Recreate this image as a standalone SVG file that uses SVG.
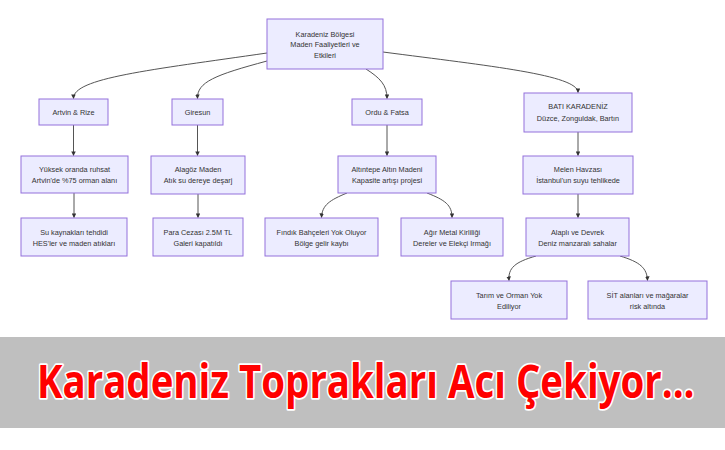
<svg xmlns="http://www.w3.org/2000/svg" width="725" height="450" viewBox="0 0 725 450">
<defs>
<style>
.n rect{fill:#ECECFF;stroke:#9370DB;stroke-width:1}
.n text{font-family:"Liberation Sans",Arial,sans-serif;font-size:7.3px;fill:#333;text-anchor:middle}
.e path{fill:none;stroke:#555;stroke-width:1;marker-end:url(#arr)}
.title{font-family:"Open Sans","Liberation Sans",sans-serif;font-weight:bold;font-size:46px;fill:#ff0000;stroke:#fff;stroke-width:3.5;paint-order:stroke;stroke-linejoin:round}
</style>
<marker id="arr" viewBox="0 0 10 10" refX="9" refY="5" markerWidth="4.5" markerHeight="4.5" orient="auto" markerUnits="userSpaceOnUse">
<path d="M0,0 L10,5 L0,10 z" fill="#333"/>
</marker>
</defs>
<rect width="725" height="450" fill="#fff"/>
<g class="e" id="connectors">
<path d="M267,53 C150,70 73,78 73.5,98.5"/>
<path d="M267,61 C215,75 197,82 197.5,98.5"/>
<path d="M366,69 C380,78 387,85 387,98.5"/>
<path d="M383,52 C490,66 578,75 578,92.5"/>
<path d="M73.5,125 L73.5,155.5"/>
<path d="M197.5,125 L197.5,155.5"/>
<path d="M387,125 L387,155.5"/>
<path d="M578,132 L578,155.5"/>
<path d="M74,193 L74,217.5"/>
<path d="M198,194 L198,217.5"/>
<path d="M347,193 C330,200 322,205 321.5,217.5"/>
<path d="M427,193 C445,200 452,205 452,217.5"/>
<path d="M578,194 L578,217.5"/>
<path d="M536,256 C515,262 508,268 509,280.5"/>
<path d="M620,256 C640,262 647,268 647.5,280.5"/>
</g>
<g class="n" id="root"><rect x="267" y="19" width="116" height="50"/><text x="325" y="36.5">Karadeniz Bölgesi</text><text x="325" y="47">Maden Faaliyetleri ve</text><text x="325" y="57.5">Etkileri</text></g>
<g class="n" id="artvin"><rect x="39" y="99" width="69" height="26"/><text x="73.5" y="114.5">Artvin &amp; Rize</text></g>
<g class="n" id="giresun"><rect x="172" y="99" width="51" height="26"/><text x="197.5" y="114.5">Giresun</text></g>
<g class="n" id="ordu"><rect x="352" y="99" width="70" height="26"/><text x="387" y="114.5">Ordu &amp; Fatsa</text></g>
<g class="n" id="bati"><rect x="524" y="93" width="108" height="39"/><text x="578" y="108.5">BATI KARADENİZ</text><text x="578" y="120.5">Düzce, Zonguldak, Bartın</text></g>
<g class="n" id="yuksek"><rect x="21" y="156" width="107" height="37"/><text x="74.5" y="172">Yüksek oranda ruhsat</text><text x="74.5" y="182.5">Artvin'de %75 orman alanı</text></g>
<g class="n" id="alagoz"><rect x="151" y="156" width="94" height="38"/><text x="198" y="172">Alagöz Maden</text><text x="198" y="182.5">Atık su dereye deşarj</text></g>
<g class="n" id="altintepe"><rect x="338" y="156" width="98" height="37"/><text x="387" y="172">Altıntepe Altın Madeni</text><text x="387" y="182.5">Kapasite artışı projesi</text></g>
<g class="n" id="melen"><rect x="523" y="156" width="110" height="38"/><text x="578" y="172">Melen Havzası</text><text x="578" y="182.5">İstanbul'un suyu tehlikede</text></g>
<g class="n" id="su"><rect x="21" y="218" width="106" height="38"/><text x="74" y="234.5">Su kaynakları tehdidi</text><text x="74" y="245.5">HES'ler ve maden atıkları</text></g>
<g class="n" id="para"><rect x="153" y="218" width="90" height="38"/><text x="198" y="234.5">Para Cezası 2.5M TL</text><text x="198" y="245.5">Galeri kapatıldı</text></g>
<g class="n" id="findik"><rect x="265" y="218" width="113" height="38"/><text x="321.5" y="234.5">Fındık Bahçeleri Yok Oluyor</text><text x="321.5" y="245.5">Bölge gelir kaybı</text></g>
<g class="n" id="agir"><rect x="401" y="218" width="102" height="38"/><text x="452" y="234.5">Ağır Metal Kirliliği</text><text x="452" y="245.5">Dereler ve Elekçi Irmağı</text></g>
<g class="n" id="alapli"><rect x="526" y="218" width="103" height="38"/><text x="577.5" y="234.5">Alaplı ve Devrek</text><text x="577.5" y="245.5">Deniz manzaralı sahalar</text></g>
<g class="n" id="tarim"><rect x="451" y="281" width="116" height="38"/><text x="509" y="297.5">Tarım ve Orman Yok</text><text x="509" y="308.5">Ediliyor</text></g>
<g class="n" id="sit"><rect x="588" y="281" width="119" height="38"/><text x="647.5" y="297.5">SİT alanları ve mağaralar</text><text x="647.5" y="308.5">risk altında</text></g>
<rect x="0" y="337" width="725" height="91" fill="#bfbfbf"/>
<text class="title" transform="translate(37,398) scale(0.69,1)" x="0" y="0" textLength="953" lengthAdjust="spacingAndGlyphs">Karadeniz Toprakları Acı Çekiyor...</text>
</svg>
